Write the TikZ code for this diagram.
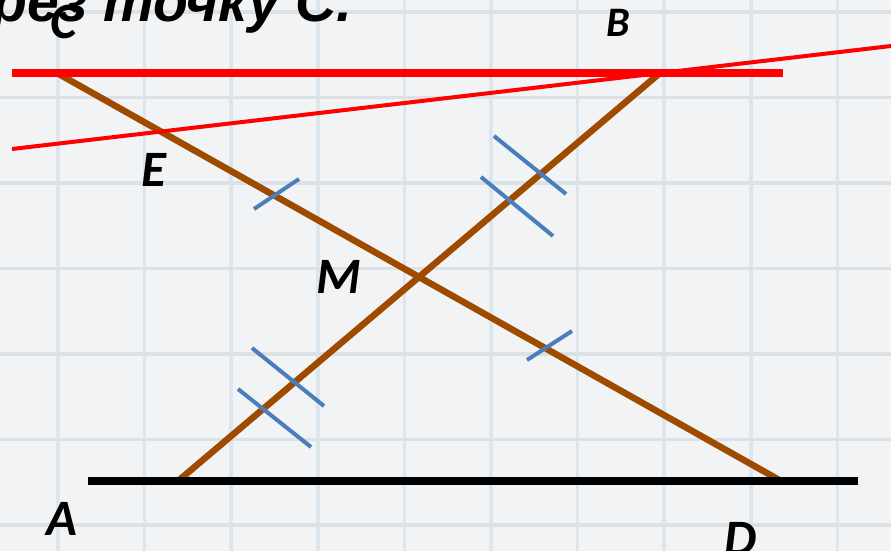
\documentclass[tikz,border=0pt]{standalone}
\usepackage{fontspec}
\newfontfamily\lblfont{Carlito}
\newfontfamily\ttlfont{Liberation Sans}
\usetikzlibrary{calc,intersections}
\definecolor{bgcol}{HTML}{F1F3F5}
\definecolor{hgrid}{HTML}{DCE1E5}
\definecolor{vgrid}{HTML}{DDE6ED}
\definecolor{browncol}{HTML}{9E4B00}
\definecolor{tickcol}{HTML}{4A7EBB}
\tikzset{
  seg/.style={draw=browncol,line width=6.5pt},
  thickred/.style={draw=red,line width=8pt},
  thinred/.style={draw=red,line width=4pt},
  baseline/.style={draw=black,line width=7.5pt},
  tickmark/.style={draw=tickcol,line width=4pt},
  lbl/.style={font=\lblfont\bfseries\itshape\fontsize{51}{51}\selectfont,inner sep=0pt,text=black},
}
\begin{document}
\begin{tikzpicture}[x=1pt,y=-1pt]
\useasboundingbox (0,0) rectangle (891,551);
\clip (0,0) rectangle (891,551);
\fill[bgcol] (0,0) rectangle (891,551);
% grid
\foreach \i in {0,...,10} {
  \draw[vgrid,line width=3.5pt] ({58+86.6*\i},0) -- ({58+86.6*\i},551);
}
\foreach \j in {0,...,6} {
  \draw[hgrid,line width=3.5pt] (0,{12+85.5*\j}) -- (891,{12+85.5*\j});
}
% title
\node[anchor=base west,inner sep=0pt,font=\ttlfont\bfseries\itshape\fontsize{57}{57}\selectfont] (title) at (-8,22) {рез точку С.};
% points
\coordinate (C) at (57,73);
\coordinate (B) at (660,73);
\coordinate (A) at (178,481);
\coordinate (D) at (781,481);
\coordinate (RL) at (12,73);
\coordinate (RR) at (783,73);
\coordinate (TL) at (12,149);
\coordinate (TR) at (891,46);
\coordinate (BL) at (88,481);
\coordinate (BR) at (858,481);
% brown segments
\path[name path=ab] (A) -- (B);
\path[name path=cd] (C) -- (D);
\path[name path=tl] (TL) -- (TR);
\path[name intersections={of=ab and cd,by=M}];
\path[name intersections={of=tl and cd,by=E}];
\draw[seg] (C) -- (D);
\draw[seg] (A) -- (B);
% red lines
\draw[thickred] (RL) -- (RR);
\draw[thinred] (TL) -- (TR);
% base line
\draw[baseline] (BL) -- (BR);
% tick marks
\coordinate (t1a) at (254,209); \coordinate (t1b) at (299,179);
\coordinate (t2a) at (527,360); \coordinate (t2b) at (572,331);
\coordinate (t3a) at (252,348); \coordinate (t3b) at (324,406);
\coordinate (t3c) at (238,389); \coordinate (t3d) at (311,447);
\coordinate (t4a) at (494,136); \coordinate (t4b) at (566,194);
\coordinate (t4c) at (481,177); \coordinate (t4d) at (553,236);
\draw[tickmark] (t1a) -- (t1b);
\draw[tickmark] (t2a) -- (t2b);
\draw[tickmark] (t3a) -- (t3b);
\draw[tickmark] (t3c) -- (t3d);
\draw[tickmark] (t4a) -- (t4b);
\draw[tickmark] (t4c) -- (t4d);
% labels
\node[lbl] (lC) at (64,22) {C};
\node[lbl,font=\lblfont\bfseries\itshape\fontsize{42}{42}\selectfont] (lB) at (618,23) {B};
\node[lbl] (lE) at (154,170) {E};
\node[lbl] (lM) at (339,277) {M};
\node[lbl] (lA) at (62,519) {A};
\node[lbl] (lD) at (741,539) {D};
\end{tikzpicture}
\end{document}
